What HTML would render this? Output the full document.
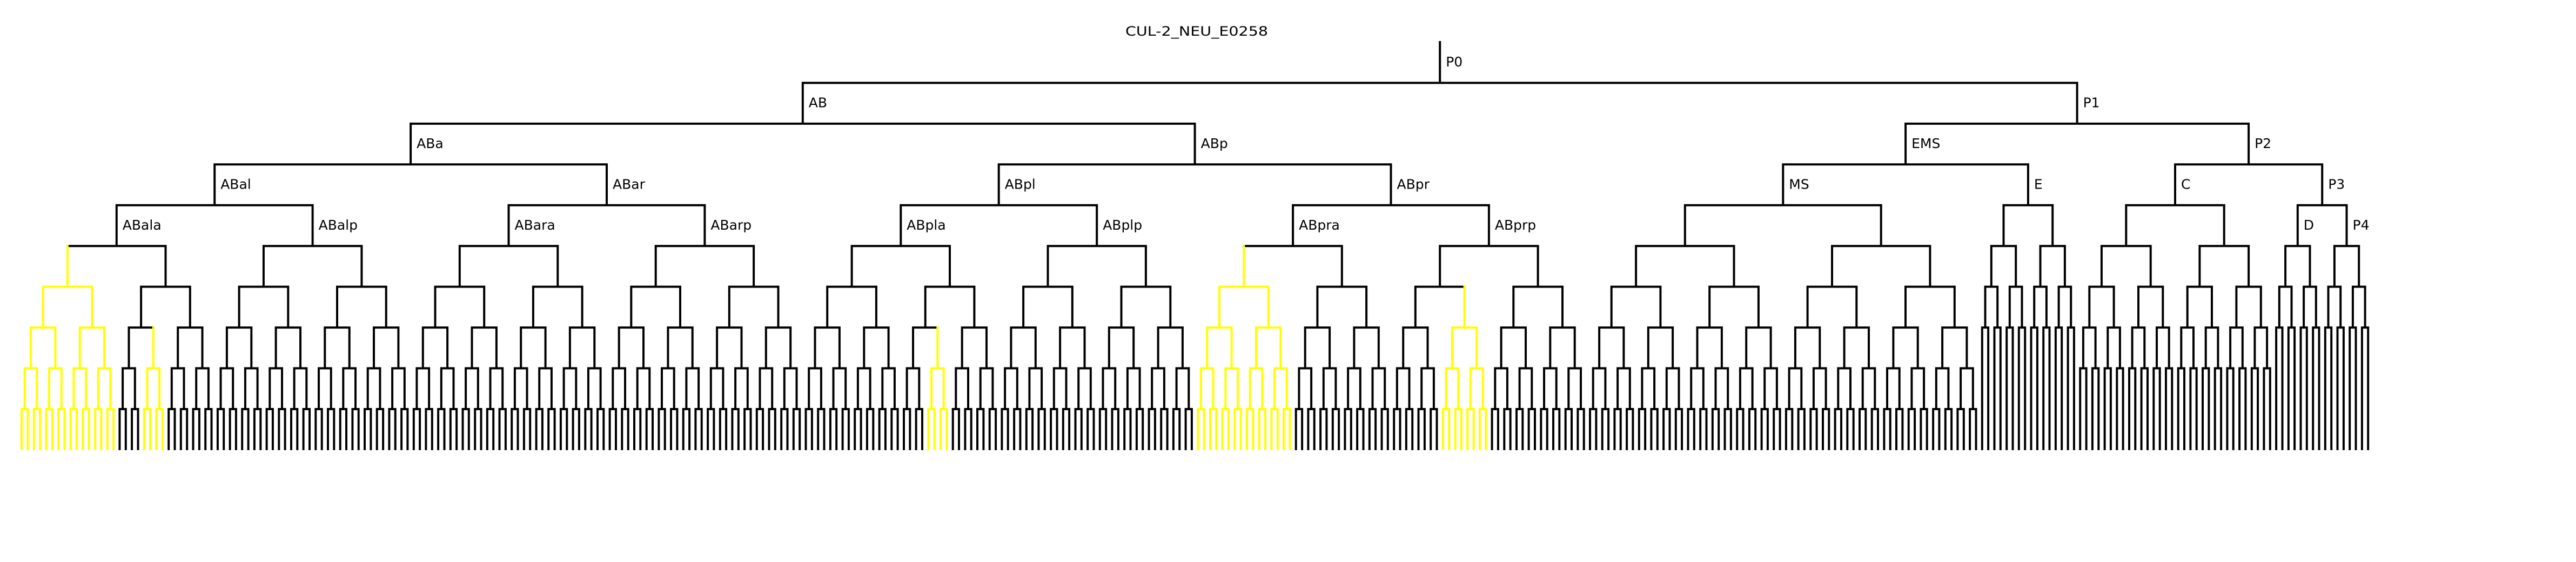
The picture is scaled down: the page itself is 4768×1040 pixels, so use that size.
<!DOCTYPE html>
<html><head><meta charset="utf-8"><style>
html,body{margin:0;padding:0;background:#fff;width:4768px;height:1040px;overflow:hidden}
svg{display:block}
text{font-family:"DejaVu Sans","Liberation Sans",sans-serif;fill:#000}
</style></head><body>
<svg id="s" width="4768" height="1040" viewBox="0 0 4768 1040" xmlns="http://www.w3.org/2000/svg">
<rect width="4768" height="1040" fill="#fff"/>
<g id="lines" stroke-width="4" stroke-linecap="square" fill="none"></g>
<text x="2083" y="66" font-size="24" textLength="264" lengthAdjust="spacingAndGlyphs">CUL-2_NEU_E0258</text>
<g font-size="25">
<text id="P0">P0</text><text id="AB">AB</text><text id="P1">P1</text>
<text id="ABa">ABa</text><text id="ABp">ABp</text><text id="EMS">EMS</text><text id="P2">P2</text>
<text id="ABal">ABal</text><text id="ABar">ABar</text><text id="ABpl">ABpl</text><text id="ABpr">ABpr</text>
<text id="MS">MS</text><text id="E">E</text><text id="C">C</text><text id="P3">P3</text>
<text id="ABala">ABala</text><text id="ABalp">ABalp</text><text id="ABara">ABara</text><text id="ABarp">ABarp</text>
<text id="ABpla">ABpla</text><text id="ABplp">ABplp</text><text id="ABpra">ABpra</text><text id="ABprp">ABprp</text>
<text id="D">D</text><text id="P4">P4</text>
</g>
</svg>
<script>
(function(){
var X0=40,S=11.34,BOT=831;
function LY(k){return 78+k*75.44;}
var leaf=0;
function full(name,start,levels){
  if(levels===0){var n={name:name,lo:leaf,hi:leaf,x:X0+leaf*S,split:null,kids:[]};leaf++;return n;}
  var a=full(name?name+"a":null,start+1,levels-1);
  var b=full(name?name+"p":null,start+1,levels-1);
  return mk(name,start,a,b);
}
function mk(name,k,a,b){return {name:name,lo:a.lo,hi:b.hi,x:(a.x+b.x)/2,split:LY(k),kids:[a,b]};}
// AB subtree names: AB -> ABa/ABp -> ABal/ABar, ABpl/ABpr -> ABala...
function abTree(){
  function sub(name,k,lv){
    if(lv===0){var n={name:null,lo:leaf,hi:leaf,x:X0+leaf*S,split:null,kids:[]};leaf++;return n;}
    var n1,n2;
    if(name==="AB"){n1="ABa";n2="ABp";}
    else if(name&&name.length===3){n1=name+"l";n2=name+"r";}
    else if(name&&name.length===4){n1=name+"a";n2=name+"p";}
    else {n1=null;n2=null;}
    var a=sub(n1,k+1,lv-1),b=sub(n2,k+1,lv-1);
    return mk(name,k,a,b);
  }
  return sub("AB",2,8);
}
var AB=abTree();
function plain(name,k,lv){
  if(lv===0){var n={name:name,lo:leaf,hi:leaf,x:X0+leaf*S,split:null,kids:[]};leaf++;return n;}
  var a=plain(null,k+1,lv-1),b=plain(null,k+1,lv-1);
  return mk(name,k,a,b);
}
var MS=plain("MS",4,6);
var E=plain("E",4,4);
var EMS=mk("EMS",3,MS,E);
var C=plain("C",4,5);
var D=plain("D",5,3);
var P4=plain("P4",5,3);
var P3=mk("P3",4,D,P4);
var P2=mk("P2",3,C,P3);
var P1=mk("P1",2,EMS,P2);
var P0=mk("P0",1,AB,P1);
var Y=[[0,15],[20,23],[148,151],[192,207],[232,239]];
function yel(n){for(var i=0;i<Y.length;i++){if(n.lo>=Y[i][0]&&n.hi<=Y[i][1])return true;}return false;}
var blk=[],yl=[];
function draw(n,py){
  var col=yel(n)?yl:blk;
  var end=n.split===null?BOT:n.split;
  col.push("M"+n.x.toFixed(1)+" "+py.toFixed(1)+"V"+end.toFixed(1));
  if(n.split!==null){
    col.push("M"+n.kids[0].x.toFixed(1)+" "+n.split.toFixed(1)+"H"+n.kids[1].x.toFixed(1));
  }
  if(n.name){var t=document.getElementById(n.name);if(t){t.setAttribute("x",(n.x+11).toFixed(1));t.setAttribute("y",(py+45).toFixed(1));}}
  for(var i=0;i<n.kids.length;i++)draw(n.kids[i],n.split);
}
draw(P0,LY(0));
var g=document.getElementById("lines"),ns="http://www.w3.org/2000/svg";
var p1=document.createElementNS(ns,"path");p1.setAttribute("d",blk.join(""));p1.setAttribute("stroke","#000");g.appendChild(p1);
var p2=document.createElementNS(ns,"path");p2.setAttribute("d",yl.join(""));p2.setAttribute("stroke","#ffff00");g.appendChild(p2);
})();
</script>
</body></html>
